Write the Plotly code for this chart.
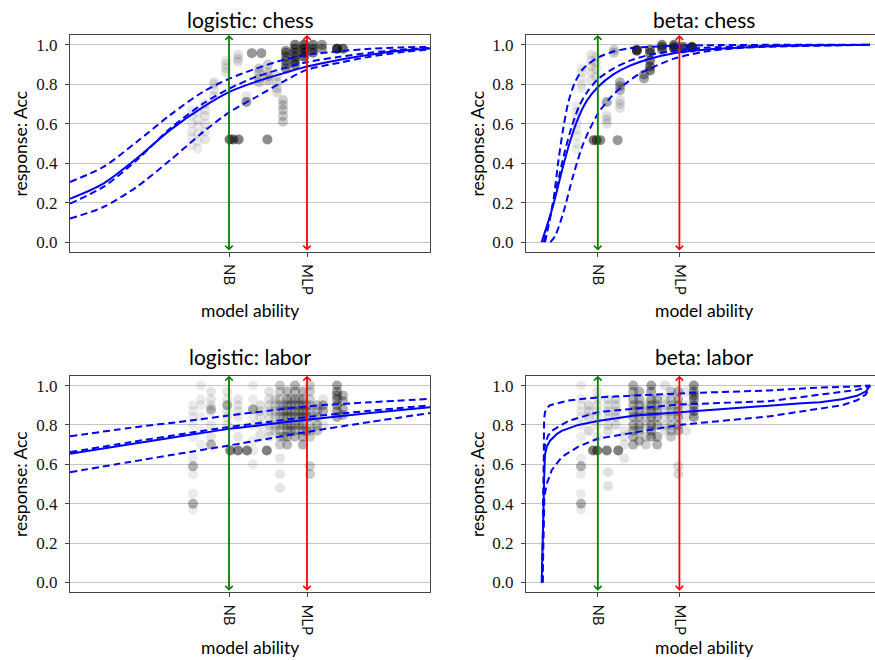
import plotly.graph_objects as go

# ---------------- data ----------------
nb_left, mlp_left = -0.35, 0.95       # ability of NB / MLP (logistic panels)
nb_right, mlp_right = -1.77, -0.41    # ability of NB / MLP (beta panels)
tick_names = ["NB", "MLP"]
y_ticks = [0.0, 0.2, 0.4, 0.6, 0.8, 1.0]

# logistic: chess  -- fitted curve (solid) and three dashed curves
lc_x = [-3.0, -2.444, -1.889, -1.333, -0.778, -0.333, 0.111, 0.556, 0.944, 1.5, 2.0, 2.5, 3.0]
lc_solid = [0.22, 0.297, 0.424, 0.568, 0.686, 0.763, 0.814, 0.856, 0.89, 0.925, 0.95, 0.97, 0.982]
lc_upper = [0.305, 0.381, 0.508, 0.644, 0.763, 0.83, 0.881, 0.924, 0.949, 0.968, 0.98, 0.987, 0.99]
lc_mid = [0.195, 0.28, 0.415, 0.576, 0.703, 0.78, 0.839, 0.881, 0.912, 0.94, 0.96, 0.975, 0.985]
lc_lower = [0.119, 0.178, 0.28, 0.415, 0.559, 0.661, 0.737, 0.814, 0.873, 0.91, 0.94, 0.962, 0.977]

# beta: chess
bc_solid_x = [-2.706, -2.6, -2.511, -2.428, -2.344, -2.233, -2.122, -1.956, -1.772, -1.511, -1.233, -0.9, -0.5, 0.0, 1.0, 2.767]
bc_solid_y = [0.0, 0.10, 0.19, 0.29, 0.39, 0.51, 0.61, 0.715, 0.785, 0.85, 0.895, 0.93, 0.958, 0.975, 0.992, 1.0]
bc_upper_x = [-2.65, -2.58, -2.511, -2.428, -2.344, -2.261, -2.15, -2.011, -1.789, -1.511, -1.233, -0.9, -0.5, 0.0, 1.0, 2.767]
bc_upper_y = [0.0, 0.10, 0.21, 0.41, 0.58, 0.71, 0.81, 0.88, 0.932, 0.966, 0.983, 0.99, 0.995, 0.998, 1.0, 1.0]
bc_mid_x = [-2.67, -2.58, -2.5, -2.41, -2.32, -2.2, -2.08, -1.95, -1.772, -1.511, -1.233, -0.9, -0.5, 0.0, 1.0, 2.767]
bc_mid_y = [0.0, 0.11, 0.22, 0.34, 0.46, 0.59, 0.69, 0.76, 0.825, 0.88, 0.92, 0.95, 0.97, 0.985, 0.995, 1.0]
bc_lower_x = [-2.56, -2.483, -2.344, -2.178, -2.011, -1.772, -1.567, -1.344, -1.067, -0.9, -0.5, 0.0, 0.5, 1.0, 2.767]
bc_lower_y = [0.0, 0.03, 0.15, 0.34, 0.50, 0.65, 0.73, 0.795, 0.855, 0.88, 0.93, 0.965, 0.982, 0.99, 1.0]

# logistic: labor
ll_x = [-3.0, -2.0, -1.0, -0.344, 0.3, 0.944, 2.0, 3.0]
ll_solid = [0.654, 0.702, 0.75, 0.78, 0.803, 0.826, 0.86, 0.89]
ll_upper = [0.742, 0.785, 0.822, 0.848, 0.872, 0.894, 0.915, 0.932]
ll_mid = [0.662, 0.712, 0.76, 0.79, 0.815, 0.84, 0.872, 0.899]
ll_lower = [0.56, 0.612, 0.663, 0.696, 0.73, 0.764, 0.815, 0.86]

# beta: labor
bl_solid_x = [-2.706, -2.69, -2.678, -2.665, -2.65, -2.62, -2.567, -2.45, -2.372, -2.094, -1.772, -1.15, -0.411, 0.517, 1.072, 1.628, 1.933, 2.3, 2.55, 2.7, 2.767]
bl_solid_y = [0.0, 0.15, 0.333, 0.52, 0.65, 0.69, 0.72, 0.755, 0.77, 0.80, 0.82, 0.848, 0.865, 0.887, 0.899, 0.91, 0.915, 0.93, 0.948, 0.97, 1.0]
bl_upper_x = [-2.69, -2.68, -2.677, -2.665, -2.65, -2.62, -2.567, -2.261, -1.772, -0.411, 1.072, 1.933, 2.5, 2.767]
bl_upper_y = [0.0, 0.35, 0.77, 0.83, 0.865, 0.885, 0.9, 0.924, 0.94, 0.96, 0.975, 0.99, 0.995, 1.0]
bl_mid_x = [-2.7, -2.69, -2.678, -2.665, -2.65, -2.6, -2.539, -2.261, -1.772, -0.411, 1.072, 1.933, 2.3, 2.55, 2.7, 2.767]
bl_mid_y = [0.0, 0.25, 0.60, 0.66, 0.70, 0.745, 0.77, 0.82, 0.865, 0.904, 0.92, 0.954, 0.965, 0.978, 0.99, 1.0]
bl_lower_x = [-2.69, -2.678, -2.67, -2.661, -2.622, -2.539, -2.372, -2.094, -1.772, -0.411, 1.072, 1.933, 2.3, 2.55, 2.7, 2.767]
bl_lower_y = [0.0, 0.15, 0.32, 0.434, 0.50, 0.57, 0.637, 0.69, 0.73, 0.80, 0.843, 0.882, 0.9, 0.925, 0.955, 1.0]

# observed responses, grouped in columns: (ability, [accuracies], opacity)
lc_points = [
    (-0.97, [0.49, 0.53, 0.56, 0.60, 0.64, 0.67], 0.08),
    (-0.87, [0.475, 0.51, 0.55, 0.59, 0.62, 0.66], 0.08),
    (-0.75, [0.52, 0.56, 0.60, 0.64, 0.67, 0.70], 0.10),
    (-0.60, [0.74, 0.77, 0.80, 0.81], 0.10),
    (-0.40, [0.86, 0.88, 0.90, 0.92], 0.10),
    (-0.34, [0.52], 0.55), (-0.28, [0.52], 0.55), (-0.19, [0.52], 0.5), (0.29, [0.52], 0.45),
    (-0.20, [0.915, 0.93, 0.95], 0.12),
    (-0.06, [0.71], 0.4), (-0.06, [0.74], 0.1),
    (0.03, [0.958], 0.4), (0.19, [0.958], 0.4),
    (0.15, [0.81, 0.83, 0.86, 0.88], 0.2),
    (0.30, [0.82, 0.84, 0.86, 0.90], 0.2),
    (0.45, [0.76, 0.78, 0.81, 0.84], 0.15),
    (0.55, [0.61, 0.64, 0.67, 0.695, 0.72], 0.2),
    (0.60, [0.88, 0.90, 0.92, 0.94, 0.96, 0.97], 0.4),
    (0.75, [0.90, 0.92, 0.94, 0.96, 0.98, 1.0], 0.5),
    (0.90, [0.94, 0.96, 0.98, 1.0], 0.6),
    (1.05, [0.96, 0.98, 1.0], 0.5),
    (1.20, [0.98, 1.0], 0.4),
    (1.45, [0.98], 0.8), (1.55, [0.98], 0.6),
]
bc_points = [
    (-2.12, [0.47, 0.50, 0.54, 0.57, 0.60, 0.63, 0.66, 0.69], 0.08),
    (-2.04, [0.78, 0.80, 0.83, 0.86, 0.88], 0.08),
    (-1.88, [0.82, 0.86, 0.89, 0.92, 0.95], 0.10),
    (-1.80, [0.84, 0.88, 0.91, 0.94], 0.10),
    (-1.84, [0.517], 0.5), (-1.79, [0.517], 0.5), (-1.73, [0.517], 0.45), (-1.44, [0.517], 0.4),
    (-1.62, [0.71], 0.35), (-1.62, [0.60, 0.62, 0.64], 0.12),
    (-1.50, [0.96, 0.975], 0.2),
    (-1.40, [0.77, 0.79, 0.81], 0.3), (-1.40, [0.68, 0.70, 0.72], 0.12),
    (-1.12, [0.97, 0.975], 0.6),
    (-1.00, [0.83, 0.85], 0.35),
    (-0.90, [0.87, 0.89, 0.92, 0.96, 0.975], 0.5),
    (-0.70, [0.975, 0.99, 1.0], 0.45),
    (-0.50, [0.98, 0.99, 1.0], 0.5),
    (-0.35, [0.98, 0.99], 0.5),
    (-0.20, [0.985, 0.99], 0.6),
]
ll_points = [
    (-0.95, [0.37, 0.45, 0.55, 0.63, 0.74, 0.80, 0.84, 0.87, 0.90], 0.08), (-0.95, [0.40, 0.59], 0.3),
    (-0.82, [0.70, 0.77, 0.84, 0.90, 0.93, 1.0], 0.08),
    (-0.65, [0.70], 0.3), (-0.65, [0.74, 0.80, 0.87, 0.90, 0.93, 0.97], 0.1), (-0.65, [0.88], 0.25),
    (-0.38, [0.80, 0.84, 0.87, 0.90, 0.93, 0.97], 0.1), (-0.38, [0.90], 0.25),
    (-0.33, [0.67], 0.5), (-0.20, [0.67], 0.5), (-0.05, [0.67], 0.5), (0.28, [0.67], 0.5),
    (-0.20, [0.74, 0.84, 0.87, 0.90, 0.93], 0.1),
    (0.05, [0.60, 0.67, 0.72, 0.80, 0.84, 0.88, 0.93, 1.0], 0.08), (0.05, [0.88], 0.3),
    (0.17, [0.75, 0.80, 0.84, 0.87, 0.90], 0.12),
    (0.32, [0.74, 0.77, 0.80, 0.84, 0.87, 0.90, 0.93, 0.97], 0.12),
    (0.42, [0.77, 0.80, 0.84, 0.87, 0.90, 0.93], 0.15),
    (0.50, [0.48, 0.55, 0.63], 0.1),
    (0.50, [0.70, 0.74, 0.77, 0.80, 0.84, 0.87, 0.90, 0.93, 0.97, 1.0], 0.2),
    (0.56, [0.74, 0.80, 0.84, 0.87, 0.90], 0.2),
    (0.62, [0.70, 0.74, 0.77, 0.80, 0.84, 0.87, 0.90, 0.93, 0.97], 0.28),
    (0.68, [0.77, 0.80, 0.84, 0.87, 0.90, 0.93], 0.22),
    (0.75, [0.74, 0.77, 0.80, 0.84, 0.87, 0.90, 0.93, 0.97, 1.0], 0.28),
    (0.82, [0.80, 0.84, 0.87, 0.90, 0.93], 0.22),
    (0.88, [0.70, 0.74, 0.77, 0.80, 0.84, 0.87, 0.90, 0.93, 0.97], 0.3),
    (0.94, [0.77, 0.84, 0.87, 0.90], 0.2),
    (1.00, [0.55, 0.59, 0.74, 0.77, 0.80, 0.84, 0.87, 0.90, 0.93, 0.97, 1.0], 0.2),
    (1.12, [0.77, 0.80, 0.84, 0.87, 0.90], 0.25),
    (1.22, [0.87, 0.90], 0.3), (1.22, [0.80, 0.93], 0.1),
    (1.45, [0.84, 0.87, 0.90, 0.93, 0.95, 0.97, 1.0], 0.35),
    (1.55, [0.85, 0.88, 0.92, 0.95], 0.3),
]
bl_points = [
    (-2.05, [0.37, 0.45, 0.55, 0.63, 0.74, 0.80, 0.84, 0.87, 0.90, 0.93, 1.0], 0.08), (-2.05, [0.40, 0.59], 0.3),
    (-1.92, [0.77, 0.84, 0.87, 0.90], 0.15),
    (-1.85, [0.67], 0.5), (-1.78, [0.67], 0.5), (-1.62, [0.67], 0.5), (-1.43, [0.67], 0.5),
    (-1.78, [0.74, 0.80, 0.84, 0.87, 0.90, 0.93, 0.97], 0.1),
    (-1.60, [0.77, 0.80, 0.84, 0.87, 0.90, 0.93], 0.12), (-1.60, [0.49, 0.56], 0.12),
    (-1.47, [0.80, 0.84, 0.87, 0.90, 0.93], 0.15),
    (-1.33, [0.63, 0.70, 0.74, 0.77], 0.1),
    (-1.18, [0.70, 0.74, 0.77, 0.80, 0.84, 0.87, 0.90, 0.93, 0.97, 1.0], 0.3),
    (-1.08, [0.72, 0.77, 0.80, 0.84, 0.87, 0.90, 0.93, 0.97], 0.3),
    (-0.97, [0.70, 0.74, 0.80, 0.84, 0.87, 0.90], 0.18),
    (-0.88, [0.74, 0.77, 0.80, 0.84, 0.87, 0.90, 0.93, 0.97, 1.0], 0.35),
    (-0.78, [0.70, 0.74, 0.80, 0.84, 0.87, 0.90, 0.93], 0.3),
    (-0.65, [0.77, 0.80, 0.84, 0.87, 0.90, 0.93, 1.0], 0.12),
    (-0.55, [0.74, 0.77, 0.80, 0.84, 0.87, 0.90, 0.93, 0.97], 0.22),
    (-0.43, [0.55, 0.59], 0.15), (-0.43, [0.77, 0.80, 0.84, 0.87, 0.90, 0.93, 0.97], 0.3),
    (-0.30, [0.77, 0.84, 0.90, 0.97], 0.1),
    (-0.17, [0.84, 0.87, 0.90, 0.93, 0.95, 0.97, 1.0], 0.4),
]

titles = ["logistic: chess", "beta: chess", "logistic: labor", "beta: labor"]

# ---------------- styling ----------------
W, H = 875, 660
SANS = "Lato, 'Open Sans', sans-serif"
SERIF = "'Liberation Serif', 'DejaVu Serif', serif"
FRAME = "#444444"
BLUE = "#0000ff"

fig = go.Figure()

panels = [
    dict(pts=lc_points, curves=[(lc_x, lc_solid, "solid"), (lc_x, lc_upper, "dash"), (lc_x, lc_mid, "dash"), (lc_x, lc_lower, "dash")],
         nb=nb_left, mlp=mlp_left, shape="spline"),
    dict(pts=bc_points, curves=[(bc_solid_x, bc_solid_y, "solid"), (bc_upper_x, bc_upper_y, "dash"), (bc_mid_x, bc_mid_y, "dash"), (bc_lower_x, bc_lower_y, "dash")],
         nb=nb_right, mlp=mlp_right, shape="spline"),
    dict(pts=ll_points, curves=[(ll_x, ll_solid, "solid"), (ll_x, ll_upper, "dash"), (ll_x, ll_mid, "dash"), (ll_x, ll_lower, "dash")],
         nb=nb_left, mlp=mlp_left, shape="spline"),
    dict(pts=bl_points, curves=[(bl_solid_x, bl_solid_y, "solid"), (bl_upper_x, bl_upper_y, "dash"), (bl_mid_x, bl_mid_y, "dash"), (bl_lower_x, bl_lower_y, "dash")],
         nb=nb_right, mlp=mlp_right, shape="linear"),
]

# pixel layout of the four plot boxes
x_dom = {0: [70 / W, 430 / W], 1: [526 / W, 1.0]}
y_dom = {0: [(H - 252) / H, (H - 35) / H], 1: [(H - 592.3) / H, (H - 375.7) / H]}
x_rng = {0: [-3.0, 3.0], 1: [-2.967, 2.85]}

annotations = []
for i, p in enumerate(panels):
    col, row = i % 2, i // 2
    sfx = "" if i == 0 else str(i + 1)
    xr, yr = "x" + sfx, "y" + sfx
    xs, ys, ops = [], [], []
    for th, accs, a in p["pts"]:
        for acc in accs:
            xs.append(th)
            ys.append(acc)
            ops.append(a)
    fig.add_trace(go.Scatter(x=xs, y=ys, mode="markers", xaxis=xr, yaxis=yr, showlegend=False,
                             marker=dict(size=10, color="black", opacity=ops, line=dict(width=0)),
                             hoverinfo="skip"))
    for cx, cy, dash in p["curves"]:
        fig.add_trace(go.Scatter(x=cx, y=cy, mode="lines", xaxis=xr, yaxis=yr, showlegend=False,
                                 line=dict(color=BLUE, width=2, dash=("solid" if dash == "solid" else "7px,4px"),
                                           shape=p["shape"], smoothing=0.8),
                                 hoverinfo="skip"))
    fig.layout["xaxis" + sfx] = dict(
        domain=x_dom[col], range=x_rng[col], anchor=yr, automargin=False,
        tickmode="array", tickvals=[p["nb"], p["mlp"]], ticktext=tick_names, tickangle=90,
        ticks="outside", ticklen=4, tickcolor=FRAME, tickwidth=1, ticklabelstandoff=4,
        showgrid=False, zeroline=False, showline=True, linecolor=FRAME, linewidth=1.2, mirror=True,
        tickfont=dict(family=SANS, size=15, color="#111"), fixedrange=True)
    fig.layout["yaxis" + sfx] = dict(
        domain=y_dom[row], range=[-0.05, 1.05], anchor=xr, automargin=False,
        tickmode="array", tickvals=y_ticks, ticktext=["%.1f" % v for v in y_ticks],
        ticks="outside", ticklen=4, tickcolor=FRAME, tickwidth=1, ticklabelstandoff=4,
        showgrid=True, gridcolor="#c4c4c4", gridwidth=1.3, zeroline=False,
        showline=True, linecolor=FRAME, linewidth=1.2, mirror=(col == 0),
        tickfont=dict(family=SERIF, size=17, color="#111"), fixedrange=True)
    # NB / MLP double-headed arrows
    for xv, colr in ((p["nb"], "#008000"), (p["mlp"], "#ff0000")):
        annotations.append(dict(x=xv, y=1.05, ax=xv, ay=-0.05, xref=xr, yref=yr, axref=xr, ayref=yr,
                                text="", showarrow=True, arrowhead=4, startarrowhead=4, arrowside="end+start",
                                arrowsize=0.8, startarrowsize=0.8, arrowwidth=1.8, arrowcolor=colr,
                                standoff=0, startstandoff=0))
    # titles and axis labels
    cx_px = 250 if col == 0 else 704
    title_y = 19 if row == 0 else 356.7
    xlab_y = 310 if row == 0 else 647
    ylab_x = 20 if col == 0 else 477
    ylab_y = 143.5 if row == 0 else 484
    annotations.append(dict(text=titles[i], x=cx_px / W, y=(H - title_y) / H, xref="paper", yref="paper",
                            xanchor="center", yanchor="middle", showarrow=False,
                            font=dict(family=SANS, size=21, color="#000")))
    annotations.append(dict(text="model ability", x=cx_px / W, y=(H - xlab_y) / H, xref="paper", yref="paper",
                            xanchor="center", yanchor="middle", showarrow=False,
                            font=dict(family=SANS, size=17.5, color="#000")))
    annotations.append(dict(text="response: Acc", x=ylab_x / W, y=(H - ylab_y) / H, xref="paper", yref="paper",
                            xanchor="center", yanchor="middle", showarrow=False, textangle=-90,
                            font=dict(family=SANS, size=17.5, color="#000")))

fig.update_layout(template="none", width=W, height=H, autosize=False, margin=dict(l=0, r=0, t=0, b=0, pad=0),
                  paper_bgcolor="white", plot_bgcolor="white", annotations=annotations,
                  showlegend=False)

fig.write_html("out.html", config={"displayModeBar": False},
               post_script="document.body.style.margin='0px';")
